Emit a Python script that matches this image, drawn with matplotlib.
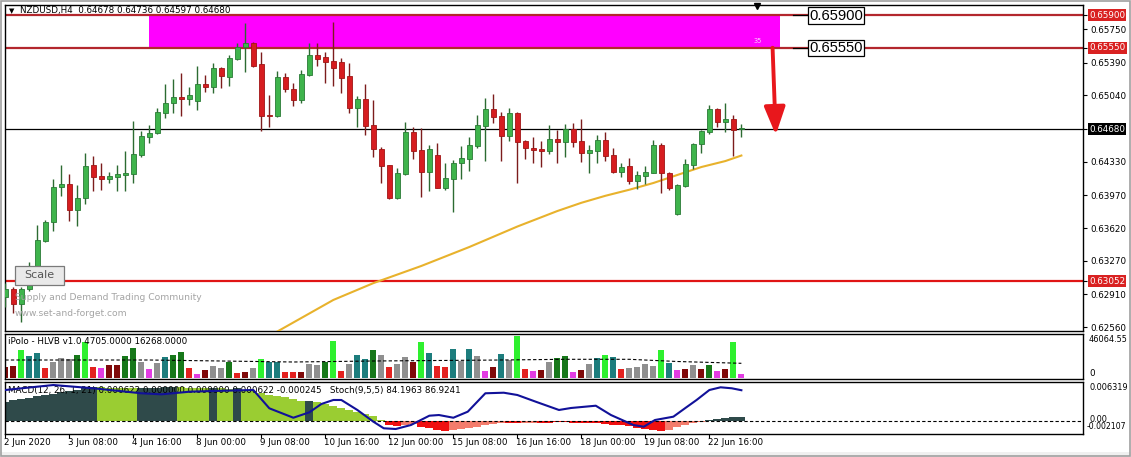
#!/usr/bin/env python3
#
# NZDUSD H4 chart (MT4 style) with volume and MACD/Stoch sub windows
#
# Output: out.png

import matplotlib
matplotlib.use("Agg")
import matplotlib.pyplot as plt
import matplotlib.transforms as mtrans
from matplotlib.patches import Rectangle
from matplotlib import font_manager
import numpy as np


# ---- candles (2 Jun 2020 00:00 .. 23 Jun 2020 08:00, H4) ----
opens = [0.62885, 0.62964, 0.62807, 0.62964, 0.63206, 0.63484, 0.63681, 0.64056, 0.64091, 0.63813,
         0.63938, 0.64295, 0.64177, 0.64148, 0.64169, 0.64191, 0.64198, 0.64402, 0.64598, 0.64634,
         0.64855, 0.64955, 0.65019, 0.65004, 0.64983, 0.65162, 0.65133, 0.65330, 0.65240, 0.65429,
         0.65561, 0.65604, 0.65376, 0.64830, 0.64819, 0.65234, 0.65108, 0.64991, 0.65258, 0.65472,
         0.65448, 0.65408, 0.65394, 0.65247, 0.64902, 0.65001, 0.64723, 0.64463, 0.64295, 0.63938,
         0.64198, 0.64645, 0.64455, 0.64223, 0.64402, 0.64052, 0.64148, 0.64313, 0.64359, 0.64501,
         0.64715, 0.64891, 0.64819, 0.64608, 0.64848, 0.64552, 0.64473, 0.64466, 0.64448, 0.64570,
         0.64544, 0.64677, 0.64552, 0.64420, 0.64448, 0.64562, 0.64402, 0.64217, 0.64284, 0.64127,
         0.64180, 0.64212, 0.64509, 0.64212, 0.63770, 0.64073, 0.64295, 0.64516, 0.64645, 0.64894,
         0.64758, 0.64787, 0.64678]
highs = [0.63032, 0.62992, 0.62992, 0.63256, 0.63652, 0.63706, 0.64145, 0.64295, 0.64198, 0.64081,
         0.64420, 0.64391, 0.64319, 0.64223, 0.64295, 0.64448, 0.64769, 0.64659, 0.64723, 0.64902,
         0.65162, 0.65212, 0.65276, 0.65133, 0.65354, 0.65258, 0.65390, 0.65347, 0.65472, 0.65598,
         0.65812, 0.65615, 0.65508, 0.65044, 0.65301, 0.65276, 0.65176, 0.65312, 0.65598, 0.65598,
         0.65508, 0.65826, 0.65437, 0.65383, 0.65033, 0.65162, 0.64991, 0.64491, 0.64300, 0.64259,
         0.64752, 0.64705, 0.64694, 0.64509, 0.64527, 0.64313, 0.64348, 0.64498, 0.64591, 0.64830,
         0.65009, 0.65055, 0.64865, 0.64902, 0.64859, 0.64562, 0.64598, 0.64555, 0.64723, 0.64664,
         0.64734, 0.64741, 0.64784, 0.64509, 0.64616, 0.64645, 0.64480, 0.64319, 0.64366, 0.64230,
         0.64284, 0.64562, 0.64527, 0.64223, 0.64088, 0.64356, 0.64527, 0.64669, 0.64937, 0.64902,
         0.64955, 0.64830, 0.64736]
lows = [0.62775, 0.62707, 0.62617, 0.62950, 0.63192, 0.63474, 0.63591, 0.63963, 0.63698, 0.63645,
        0.63874, 0.64020, 0.64027, 0.64105, 0.64020, 0.64020, 0.64105, 0.64384, 0.64533, 0.64623,
        0.64801, 0.64848, 0.64822, 0.64937, 0.64883, 0.65079, 0.65062, 0.65116, 0.65144, 0.65419,
        0.65294, 0.65347, 0.64662, 0.64698, 0.64812, 0.65079, 0.64926, 0.64962, 0.65247, 0.65358,
        0.65169, 0.65144, 0.65062, 0.64848, 0.64705, 0.64616, 0.64384, 0.64099, 0.63931, 0.63928,
        0.64188, 0.64359, 0.63949, 0.64020, 0.64045, 0.64027, 0.63795, 0.64145, 0.64234, 0.64480,
        0.64341, 0.64741, 0.64341, 0.64552, 0.64105, 0.64359, 0.64319, 0.64277, 0.64412, 0.64313,
        0.64384, 0.64484, 0.64330, 0.64206, 0.64313, 0.64341, 0.64206, 0.64163, 0.64091, 0.64035,
        0.64091, 0.64206, 0.63998, 0.64027, 0.63759, 0.64062, 0.64249, 0.64420, 0.64627, 0.64705,
        0.64651, 0.64391, 0.64597]
closes = [0.62964, 0.62807, 0.62964, 0.63021, 0.63492, 0.63685, 0.64056, 0.64091, 0.63813, 0.63938,
          0.64284, 0.64169, 0.64148, 0.64177, 0.64198, 0.64212, 0.64412, 0.64605, 0.64634, 0.64859,
          0.64955, 0.65019, 0.65004, 0.65041, 0.65162, 0.65133, 0.65330, 0.65251, 0.65437, 0.65555,
          0.65604, 0.65358, 0.64819, 0.64819, 0.65234, 0.65108, 0.64991, 0.65269, 0.65472, 0.65429,
          0.65401, 0.65336, 0.65229, 0.64902, 0.65001, 0.64712, 0.64463, 0.64287, 0.63938, 0.64206,
          0.64645, 0.64448, 0.64223, 0.64463, 0.64052, 0.64152, 0.64313, 0.64366, 0.64509, 0.64723,
          0.64891, 0.64812, 0.64608, 0.64848, 0.64544, 0.64480, 0.64455, 0.64448, 0.64570, 0.64541,
          0.64677, 0.64544, 0.64420, 0.64455, 0.64562, 0.64394, 0.64217, 0.64270, 0.64127, 0.64188,
          0.64223, 0.64509, 0.64212, 0.64052, 0.64081, 0.64305, 0.64520, 0.64662, 0.64894, 0.64758,
          0.64787, 0.64669, 0.64680]

# moving average (orange), read at a few bars
ma_bars = [33, 41, 46, 52, 58, 64, 69, 72, 75, 78, 81, 84, 87, 90, 92]
ma_vals = [0.62464, 0.62850, 0.63030, 0.63214, 0.63417, 0.63636, 0.63802, 0.63890, 0.63965,
           0.64030, 0.64102, 0.64188, 0.64273, 0.64337, 0.64396]

# levels
zone_top = 0.65900
zone_bottom = 0.65550
support = 0.63052
last_price = 0.64680
price_ticks = [0.65750, 0.65390, 0.65040, 0.64330, 0.63970, 0.63620, 0.63270, 0.62910, 0.62560]
red_tags = [0.65900, 0.65550, 0.63052]

# ---- iPolo HLVB volume ----
volumes = [11594, 12648, 29196, 22872, 25718, 10540, 16864, 20448, 19394, 23926,
           37944, 11594, 10540, 13386, 13386, 22872, 30988, 16864, 9170, 15178,
           22134, 23926, 26772, 10540, 3900, 8116, 12332, 10540, 16864, 4638,
           5692, 10540, 19710, 16864, 16864, 5692, 5692, 5692, 14124, 13386,
           16232, 38682, 7062, 14124, 23926, 19710, 29196, 23926, 11594, 14124,
           22134, 16232, 37312, 25718, 12648, 11594, 30250, 17602, 30250, 22872,
           7062, 11594, 24980, 18656, 43952, 9170, 7062, 8116, 16864, 20448,
           22872, 6324, 8116, 14124, 20448, 23926, 21502, 9170, 10540, 11594,
           14440, 12332, 29196, 15810, 8116, 9170, 13386, 9170, 13386, 7062,
           9170, 37312, 3900]
vol_codes = ("MMLTTRGGGD" "LRPMMDDGPG" "TDDRPMGGDR" "MGLTTRRMGG" "DLRGTTDGRG"
             "GMLTRRTGTG" "PMTGLRPMGD" "DPMGTLTRGG" "GGLTPMGMDP" "MLP")
vol_ma_bars = [0, 18, 36, 46, 62, 70, 78, 84, 92]
vol_ma_vals = [18656, 18656, 16548, 17602, 18656, 19394, 19394, 17075, 15178]

# ---- MACD histogram + Stoch main line ----
macd = [0.00313, 0.00335, 0.00356, 0.00377, 0.00400, 0.00421, 0.00442, 0.00465, 0.00486, 0.00507,
        0.00530, 0.00551, 0.00546, 0.00541, 0.00536, 0.00531, 0.00527, 0.00531, 0.00536, 0.00541,
        0.00546, 0.00551, 0.00546, 0.00541, 0.00536, 0.00531, 0.00535, 0.00528, 0.00522, 0.00527,
        0.00502, 0.00478, 0.00454, 0.00429, 0.00405, 0.00381, 0.00356, 0.00324, 0.00332, 0.00308,
        0.00275, 0.00243, 0.00211, 0.00178, 0.00146, 0.00113, 0.00073, 0.00020, -0.00065, -0.00075,
        -0.00060, -0.00050, -0.00090, -0.00110, -0.00150, -0.00160, -0.00150, -0.00130, -0.00110, -0.00090,
        -0.00070, -0.00050, -0.00030, -0.00040, -0.00040, -0.00035, -0.00030, -0.00035, -0.00040, -0.00020,
        -0.00020, -0.00030, -0.00030, -0.00040, -0.00040, -0.00050, -0.00060, -0.00070, -0.00080, -0.00120,
        -0.00130, -0.00140, -0.00160, -0.00140, -0.00100, -0.00070, -0.00040, -0.00020, 0.00020, 0.00040,
        0.00050, 0.00060, 0.00060]
macd_codes = ("SSSSSSSSSSSS" "YYYYY" "SSSSS" "YYYY" "S" "YY" "S" "YYYYYYYY" "S" "YYYYYYYYY"
              "RR" "PP" "RRRR" "PPPPPPP" "RR" "PP" "RR" "RRRRRRRRRRRRRR" "PPPPP" "SSSSS")
stoch_bars = [0, 6, 11, 17, 19.5, 23, 26, 31, 33, 36, 38, 39.5, 41, 42, 44, 46, 47.3, 48.8, 50.7,
              53, 54.2, 56, 57.8, 60, 62.3, 64, 66.3, 69.2, 70.7, 73.8, 75.7, 78.5, 79.8, 81.2,
              83.5, 85, 86.4, 88, 89.4, 90.8, 92]
stoch_vals = [84.6, 94.2, 87.9, 78.3, 76.3, 81.3, 82.7, 84.6, 49.4, 31.3, 41.7, 57.7, 65.4, 65.4,
              46.2, 23.7, 11.0, 9.6, 17.3, 35.2, 36.5, 31.3, 42.9, 78.3, 79.4, 75.0, 62.1, 46.2,
              50.0, 54.4, 36.5, 17.3, 14.0, 26.9, 33.3, 50.0, 65.4, 84.6, 89.8, 87.9, 84.2]

time_bars = [0, 8, 16, 24, 32, 40, 48, 56, 64, 72, 80, 88]
time_labels = ["2 Jun 2020", "3 Jun 08:00", "4 Jun 16:00", "8 Jun 00:00", "9 Jun 08:00",
               "10 Jun 16:00", "12 Jun 00:00", "15 Jun 08:00", "16 Jun 16:00", "18 Jun 00:00",
               "19 Jun 08:00", "22 Jun 16:00"]

VOL_COLORS = {"M": "#7f0a0a", "R": "#e3211f", "L": "#2ef02e", "T": "#1d7d7d",
              "D": "#17781a", "G": "#8f8f8f", "P": "#e23ce2"}
MACD_COLORS = {"S": "#2f4a4a", "Y": "#9acd32", "R": "#f01010", "P": "#f47c6c"}

W, H = 1131, 457
FS = 6.3


def box(l, t, r, b):
    return [l / W, 1 - b / H, (r - l) / W, (b - t) / H]


def has_font(name):
    try:
        font_manager.findfont(font_manager.FontProperties(family=name), fallback_to_default=False)
        return True
    except ValueError:
        return False


def main():
    plt.rcParams['font.family'] = ['DejaVu Sans']
    fig = plt.figure(figsize=(W / 100, H / 100), dpi=100)
    fig.patch.set_facecolor('white')

    ax = fig.add_axes(box(5, 5, 1083, 331))
    axv = fig.add_axes(box(5, 334, 1083, 379))
    axm = fig.add_axes(box(5, 382, 1083, 434))
    xlim = (-0.04, 134.7)
    for a in (ax, axv, axm):
        a.set_xlim(*xlim)
        a.set_xticks([])
        for s in a.spines.values():
            s.set_color('black')
            s.set_linewidth(1.0)
        a.yaxis.tick_right()
        a.tick_params(axis='y', direction='out', length=3, width=0.8, pad=2, labelsize=FS)

    # ---------------- price window ----------------
    ax.set_ylim(0.625176, 0.660075)
    ax.set_yticks(price_ticks)
    ax.set_yticklabels(["%.5f" % v for v in price_ticks])
    ax.set_yticks(red_tags + [last_price], minor=True)
    ax.tick_params(axis='y', which='minor', direction='out', length=3, width=0.8)

    ax.add_patch(Rectangle((17.96, zone_bottom), 96.84 - 17.96, zone_top - zone_bottom,
                           facecolor='#ff00ff', edgecolor='none', zorder=1))
    ax.text(94.0, 0.65625, "35", color='#ffc8ff', fontsize=4.8, ha='center', va='center', zorder=2)

    ax.axhline(zone_top, color='#b3272d', lw=1.6, zorder=2)
    ax.axhline(zone_bottom, color='#b3272d', lw=1.6, zorder=2)
    ax.axhline(support, color='#e01515', lw=1.6, zorder=2)
    ax.axhline(last_price, color='black', lw=0.9, zorder=2)

    ax.plot(ma_bars, ma_vals, color='#e8b22c', lw=1.5, zorder=3)

    o, hi, lo, c = (np.array(v) for v in (opens, highs, lows, closes))
    x = np.arange(len(o))
    up = c >= o
    body_lo = np.minimum(o, c)
    body_h = np.maximum(np.abs(c - o), 0.00009)
    ax.vlines(x[up], lo[up], hi[up], color='#2c6b32', lw=1.0, zorder=4)
    ax.vlines(x[~up], lo[~up], hi[~up], color='#7c1c1c', lw=1.0, zorder=4)
    ax.bar(x[up], body_h[up], bottom=body_lo[up], width=0.62, color='#3fb44c',
           edgecolor='#2a7a35', lw=0.6, zorder=5)
    ax.bar(x[~up], body_h[~up], bottom=body_lo[~up], width=0.62, color='#d61d20',
           edgecolor='#a01414', lw=0.6, zorder=5)

    # red arrow from the zone down
    ax.annotate('', xy=(96.3, 0.64616), xytext=(95.9, zone_bottom),
                arrowprops=dict(arrowstyle='-|>,head_length=0.85,head_width=0.32',
                                mutation_scale=20, color='#e8171c', lw=2.8,
                                shrinkA=0, shrinkB=0), zorder=6)

    # price labels with leader line
    if has_font('Liberation Sans Narrow'):
        big = dict(family='Liberation Sans Narrow', fontsize=12.3)
    else:
        big = dict(family='Liberation Sans', fontsize=10.6)
    for lvl in (zone_top, zone_bottom):
        ax.plot([98.4, 100.4], [lvl, lvl], color='black', lw=0.9, zorder=6)
        ax.text(100.45, lvl - 0.00006, "%.5f" % lvl, ha='left', va='center', zorder=7,
                bbox=dict(boxstyle='square,pad=0.08', facecolor='white', edgecolor='black', lw=0.9),
                **big)

    # tags on the price scale
    tr = mtrans.blended_transform_factory(ax.transAxes, ax.transData)
    xt = 1 + 6 / 1078
    for lvl in red_tags:
        ax.text(xt, lvl, "%.5f" % lvl, transform=tr, fontsize=FS, color='white', ha='left',
                va='center', clip_on=False, zorder=8,
                bbox=dict(boxstyle='square,pad=0.15', facecolor='#d92121', edgecolor='none'))
    ax.text(xt, last_price, "%.5f" % last_price, transform=tr, fontsize=FS, color='white',
            ha='left', va='center', clip_on=False, zorder=8,
            bbox=dict(boxstyle='square,pad=0.15', facecolor='black', edgecolor='none'))

    # header, watermark, Scale button
    fig.text(9 / W, 1 - 11 / H, "\u25bc", fontsize=5, va='center', ha='left')
    fig.text(20 / W, 1 - 11 / H, "NZDUSD,H4  0.64678 0.64736 0.64597 0.64680",
             fontsize=FS, va='center', ha='left')
    fig.text(15 / W, 1 - 298 / H, "Supply and Demand Trading Community", fontsize=6.6,
             color='#a4a4a4', va='center', ha='left')
    fig.text(15 / W, 1 - 314 / H, "www.set-and-forget.com", fontsize=6.6,
             color='#a4a4a4', va='center', ha='left')
    fig.patches.append(Rectangle((15 / W, 1 - 285 / H), 49 / W, 19 / H, transform=fig.transFigure,
                                 facecolor='#e9e9e9', edgecolor='#7a7a7a', lw=0.9, zorder=10))
    fig.text(39.5 / W, 1 - 275.5 / H, "Scale", fontsize=8, color='#555555', ha='center',
             va='center', zorder=11)
    fig.lines.append(plt.Line2D([757 / W], [1 - 6 / H], marker='v', markersize=5, color='black',
                                transform=fig.transFigure))

    # ---------------- volume window ----------------
    axv.set_ylim(-1370, 46064.55)
    axv.set_yticks([])
    xv = np.arange(len(volumes))
    axv.bar(xv, volumes, width=0.72, color=[VOL_COLORS[k] for k in vol_codes], zorder=2)
    axv.plot(vol_ma_bars, vol_ma_vals, color='black', lw=0.8, ls=(0, (3, 2)), zorder=3)
    axv.text(0.003, 0.84, "iPolo - HLVB v1.0 4705.0000 16268.0000", transform=axv.transAxes,
             fontsize=FS, ha='left', va='center')
    axv.text(xt, 0.88, "46064.55", transform=axv.transAxes, fontsize=5.9, ha='left',
             va='center', clip_on=False)
    axv.text(xt, 0.13, "0", transform=axv.transAxes, fontsize=FS, ha='left', va='center',
             clip_on=False)

    # ---------------- MACD / Stoch window ----------------
    axm.set_ylim(-0.002107, 0.006319)
    axm.set_yticks([])
    xm = np.arange(len(macd))
    axm.bar(xm, macd, width=1.0, color=[MACD_COLORS[k] for k in macd_codes], lw=0, zorder=2)
    axm.axhline(0, color='black', lw=0.8, ls=(0, (3, 2)), zorder=3)
    axs = axm.twinx()
    axs.set_ylim(0, 100)
    axs.set_xlim(*xlim)
    axs.axis('off')
    axs.plot(stoch_bars, stoch_vals, color='#111199', lw=1.5, zorder=4)
    axm.text(0.003, 0.83, "MACD(12, 26, 1, 21) 0.000622 0.000000 0.000000 0.000622 -0.000245"
             "   Stoch(9,5,5) 84.1963 86.9241", transform=axm.transAxes, fontsize=FS,
             ha='left', va='center', zorder=5)
    axm.text(xt, 0.885, "0.006319", transform=axm.transAxes, fontsize=5.9, ha='left',
             va='center', clip_on=False)
    axm.text(xt, 0.27, "0.00", transform=axm.transAxes, fontsize=5.9, ha='left',
             va='center', clip_on=False)
    axm.text(xt - 2 / 1078, 0.14, "-0.002107", transform=axm.transAxes, fontsize=5.6, ha='left',
             va='center', clip_on=False)

    # time axis
    axm.set_xticks(time_bars)
    axm.set_xticklabels([])
    axm.tick_params(axis='x', direction='out', length=3, width=0.8)
    trm = mtrans.blended_transform_factory(axm.transData, axm.transAxes)
    for b, lab in zip(time_bars, time_labels):
        axm.text(b - 0.15, -0.17, lab, transform=trm, fontsize=FS, ha='left', va='center',
                 clip_on=False)

    # window frame
    fig.patches.append(Rectangle((0, 0), 1, 5 / H, transform=fig.transFigure,
                                 facecolor='#f0f0f0', edgecolor='none', zorder=0))
    fig.patches.append(Rectangle((1 / W, 1 / H), 1 - 2 / W, 1 - 2 / H, transform=fig.transFigure,
                                 facecolor='none', edgecolor='#a0a0a0', lw=1.2, zorder=12))

    fig.savefig('out.png', dpi=100)


##-------------------------------------------------------##

if __name__ == '__main__':
    main()
